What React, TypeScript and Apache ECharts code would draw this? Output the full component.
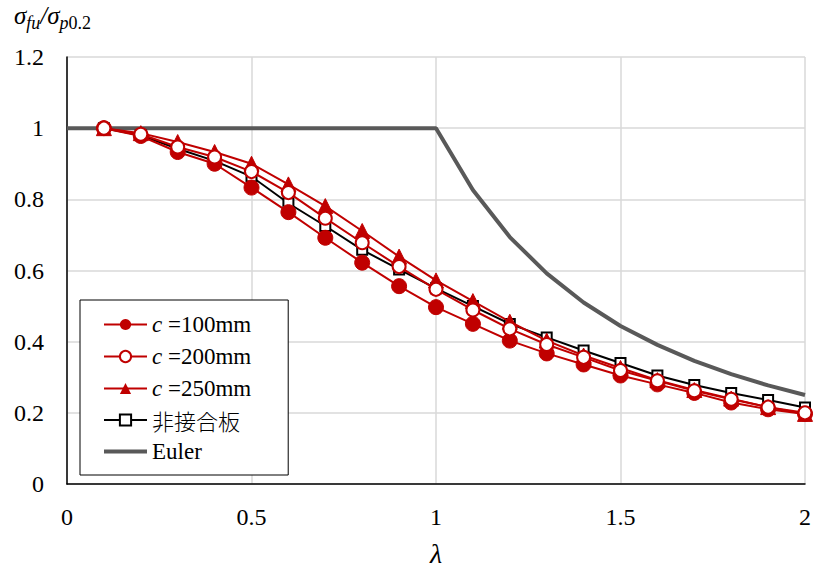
import React, { useEffect, useRef } from "react";
import * as echarts from "echarts";

const lambda = [0.1, 0.2, 0.3, 0.4, 0.5, 0.6, 0.7, 0.8, 0.9, 1.0, 1.1, 1.2, 1.3, 1.4, 1.5, 1.6, 1.7, 1.8, 1.9, 2.0];
const c100 = [1.0, 0.978, 0.933, 0.9, 0.833, 0.764, 0.692, 0.622, 0.556, 0.497, 0.45, 0.403, 0.367, 0.336, 0.305, 0.28, 0.256, 0.229, 0.21, 0.197];
const c200 = [1.0, 0.983, 0.947, 0.919, 0.878, 0.819, 0.747, 0.678, 0.611, 0.547, 0.489, 0.436, 0.392, 0.356, 0.319, 0.29, 0.262, 0.238, 0.216, 0.2];
const c250 = [1.0, 0.986, 0.961, 0.933, 0.9, 0.842, 0.781, 0.711, 0.639, 0.572, 0.514, 0.456, 0.403, 0.361, 0.326, 0.292, 0.264, 0.24, 0.216, 0.197];
const plain = [1.0, 0.98, 0.942, 0.908, 0.864, 0.789, 0.725, 0.658, 0.603, 0.55, 0.5, 0.45, 0.412, 0.375, 0.34, 0.305, 0.278, 0.256, 0.236, 0.215];
const eulerX = [0, 1.0, 1.1, 1.2, 1.3, 1.4, 1.5, 1.6, 1.7, 1.8, 1.9, 2.0];
const eulerY = [1.0, 1.0, 0.826, 0.694, 0.592, 0.51, 0.444, 0.391, 0.346, 0.309, 0.277, 0.25];
const seriesNames = ["c =100mm", "c =200mm", "c =250mm", "非接合板", "Euler"];

const RED = "#c00000";
const SERIF = "Liberation Serif";

export default function App() {
  const ref = useRef<HTMLDivElement>(null);
  useEffect(() => {
    const chart = echarts.init(ref.current!, null, { renderer: "svg" });
    const pair = (ys: number[]) => lambda.map((x, i) => [x, ys[i]]);
    chart.setOption({
      animation: false,
      backgroundColor: "#ffffff",
      grid: { left: 67, right: 7, top: 57, bottom: 83 },
      xAxis: {
        type: "value",
        min: 0,
        max: 2,
        interval: 0.5,
        name: "λ",
        nameLocation: "middle",
        nameGap: 55,
        nameTextStyle: { fontFamily: SERIF, fontStyle: "italic", fontSize: 28, color: "#000" },
        axisLine: { show: true, lineStyle: { color: "#000", width: 1.5 } },
        axisTick: { show: false },
        axisLabel: { fontFamily: SERIF, fontSize: 24, color: "#000", margin: 21 },
        splitLine: { show: true, lineStyle: { color: "#d9d9d9", width: 1.5 } },
      },
      yAxis: {
        type: "value",
        min: 0,
        max: 1.2,
        interval: 0.2,
        axisLine: { show: true, lineStyle: { color: "#000", width: 1.5 } },
        axisTick: { show: false },
        axisLabel: { fontFamily: SERIF, fontSize: 24, color: "#000", margin: 23 },
        splitLine: { show: true, lineStyle: { color: "#d9d9d9", width: 1.5 } },
      },
      legend: {
        orient: "vertical",
        left: 80,
        top: 300,
        data: [
          { name: seriesNames[0] },
          { name: seriesNames[1] },
          { name: seriesNames[2] },
          { name: seriesNames[3] },
          { name: seriesNames[4], icon: "path://M0,0 L42,0 L42,4 L0,4 Z", itemStyle: { color: "#595959" } },
        ],
        backgroundColor: "#fff",
        borderColor: "#000",
        borderWidth: 1,
        borderRadius: 0,
        padding: [13, 37, 12, 23],
        itemWidth: 43,
        itemHeight: 14,
        itemGap: 9,
        itemTextGap: 12,
        formatter: (name: string) => {
          if (name.startsWith("c =")) return "{i|c} {n|" + name.slice(2) + "}";
          if (name === "非接合板") return "{j|" + name + "}";
          return "{n|" + name + "}";
        },
        textStyle: {
          fontFamily: SERIF,
          fontSize: 23,
          color: "#000",
          rich: {
            i: { fontFamily: SERIF, fontStyle: "italic", fontSize: 23, color: "#000", lineHeight: 22 },
            n: { fontFamily: SERIF, fontSize: 23, color: "#000", lineHeight: 22 },
            j: { fontFamily: "Noto Sans CJK JP", fontWeight: 300, fontSize: 22, color: "#000", lineHeight: 22 },
          },
        },
      },
      series: [
        {
          name: seriesNames[0],
          type: "line",
          data: pair(c100),
          symbol: "circle",
          symbolSize: 15,
          lineStyle: { color: RED, width: 2 },
          itemStyle: { color: RED, borderColor: RED },
          z: 2,
        },
        {
          name: seriesNames[1],
          type: "line",
          data: pair(c200),
          symbol: "circle",
          symbolSize: 13,
          lineStyle: { color: RED, width: 2 },
          itemStyle: { color: "#fff", borderColor: RED, borderWidth: 2 },
          z: 4,
        },
        {
          name: seriesNames[2],
          type: "line",
          data: pair(c250),
          symbol: "triangle",
          symbolSize: 15,
          lineStyle: { color: RED, width: 2 },
          itemStyle: { color: RED, borderColor: RED },
          z: 3,
        },
        {
          name: seriesNames[3],
          type: "line",
          data: pair(plain),
          symbol: "rect",
          symbolSize: 10,
          lineStyle: { color: "#000", width: 2 },
          itemStyle: { color: "#fff", borderColor: "#000", borderWidth: 2 },
          z: 1,
        },
        {
          name: seriesNames[4],
          type: "line",
          data: eulerX.map((x, i) => [x, eulerY[i]]),
          symbol: "none",
          lineStyle: { color: "#595959", width: 4 },
          itemStyle: { color: "#595959" },
          z: 0,
        },
      ],
      graphic: [
        {
          type: "text",
          left: 14,
          top: 3,
          style: {
            text: "{s|σ}{b|fu}{s|/σ}{b|p}{c|0.2}",
            rich: {
              s: { fontFamily: SERIF, fontStyle: "italic", fontSize: 25, lineHeight: 28, fill: "#000", verticalAlign: "bottom" },
              b: { fontFamily: SERIF, fontStyle: "italic", fontSize: 18, lineHeight: 16, fill: "#000", verticalAlign: "bottom", padding: [0, 0, -4, 0] },
              c: { fontFamily: SERIF, fontSize: 18, lineHeight: 16, fill: "#000", verticalAlign: "bottom", padding: [0, 0, -4, 0] },
            },
          },
        },
      ],
    });
    return () => chart.dispose();
  }, []);
  return <div ref={ref} style={{ position: "absolute", left: 0, top: 0, width: 814, height: 572 }} />;
}
